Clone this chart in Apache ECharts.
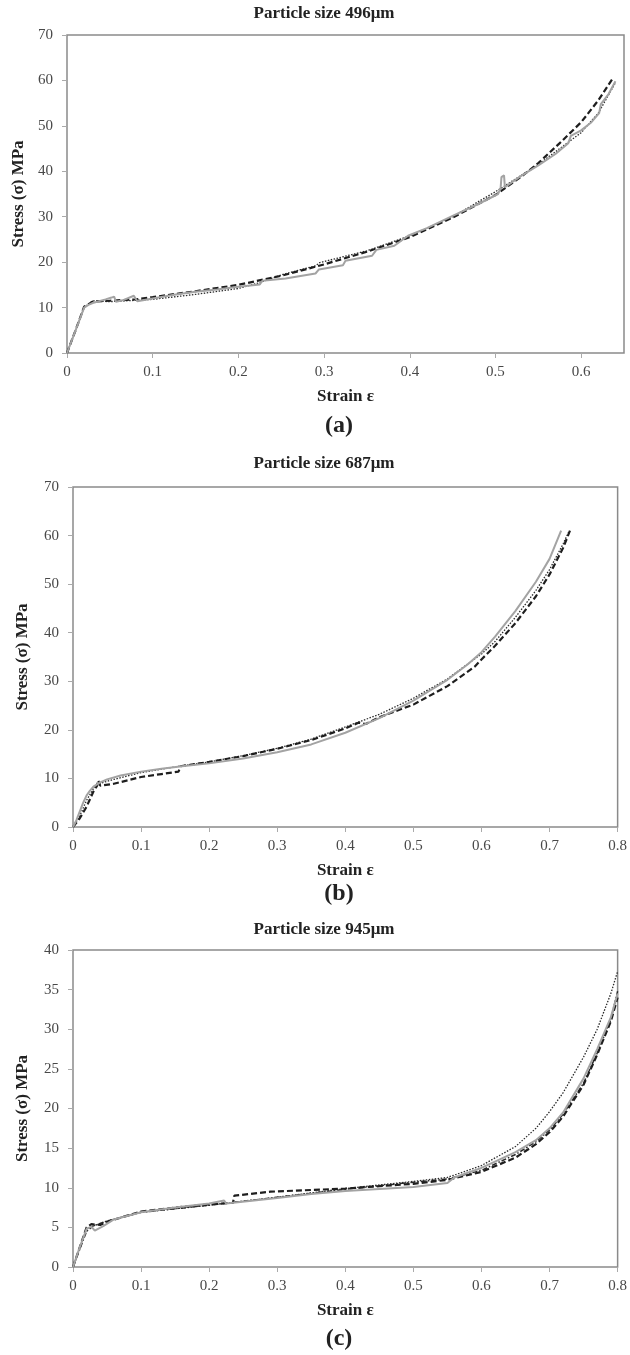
<!DOCTYPE html>
<html>
<head>
<meta charset="utf-8">
<title>Stress–strain curves by particle size</title>
<script src="https://cdn.jsdelivr.net/npm/echarts@6/dist/echarts.min.js"></script>
<style>
  html, body { margin: 0; padding: 0; background: #fff; }
  #chart { width: 630px; height: 1355px; }
</style>
</head>
<body>
<div id="chart"></div>
<script>
// Panel headings and sub-figure letters
const panelTitles = ['Particle size 496μm', 'Particle size 687μm', 'Particle size 945μm'];
const panelLetters = ['(a)', '(b)', '(c)'];

// Axis ranges (strain ε, stress σ in MPa)
const strainMax = [0.65, 0.8, 0.8];
const strainStep = 0.1;
const stressMax = [70, 70, 40];
const stressStep = [10, 10, 5];

// Panel (a): 496 μm, [strain, stress]
const a_solid = [[0,0],[0.01,5],[0.02,10],[0.025,10.6],[0.03,11],[0.045,11.8],[0.052,12.2],[0.055,12.4],[0.057,11.3],[0.065,11.6],[0.078,12.6],[0.08,12.9],[0.082,11.4],[0.1,12],[0.125,12.8],[0.15,13.5],[0.175,14],[0.2,14.6],[0.225,15.1],[0.228,15.9],[0.255,16.4],[0.29,17.5],[0.294,18.4],[0.322,19.3],[0.325,20.3],[0.356,21.4],[0.361,22.7],[0.382,23.6],[0.398,25.8],[0.42,27.5],[0.45,30.2],[0.48,32.8],[0.503,35],[0.506,36.3],[0.507,38.7],[0.51,39.1],[0.511,36.5],[0.53,39],[0.55,41.3],[0.57,43.8],[0.585,46.2],[0.588,47.8],[0.6,49],[0.612,50.8],[0.621,52.8],[0.623,54.8],[0.632,57],[0.64,59.8]];
const a_dashed = [[0,0],[0.01,5],[0.02,10.2],[0.03,11.3],[0.05,11.5],[0.08,11.8],[0.1,12.3],[0.15,13.6],[0.2,15],[0.25,17],[0.3,19.5],[0.35,22.3],[0.4,25.5],[0.45,29.8],[0.5,34.8],[0.53,38.8],[0.55,41.8],[0.575,46.2],[0.6,50.8],[0.62,55.6],[0.637,60.5]];
const a_dotted = [[0,0],[0.02,10],[0.03,11.5],[0.05,11.3],[0.1,11.8],[0.15,12.9],[0.2,14.2],[0.225,15.5],[0.25,17.2],[0.29,19.2],[0.295,19.9],[0.35,22.5],[0.4,25.8],[0.45,30],[0.5,35.5],[0.55,41.5],[0.6,48.5],[0.62,52.8],[0.64,59.5]];

// Panel (b): 687 μm
const b_solid = [[0,0],[0.005,1.4],[0.01,3.2],[0.015,5],[0.02,6.5],[0.025,7.5],[0.03,8.3],[0.04,9.2],[0.05,9.8],[0.07,10.6],[0.1,11.4],[0.13,12],[0.16,12.5],[0.2,13.1],[0.25,14.1],[0.3,15.4],[0.35,17],[0.4,19.4],[0.45,22.4],[0.5,26],[0.55,30.3],[0.58,33.5],[0.6,36],[0.62,39.2],[0.65,44.5],[0.68,50.5],[0.7,55.2],[0.717,61]];
const b_dashed = [[0,0],[0.01,1.8],[0.02,4.2],[0.03,7.3],[0.035,8.4],[0.037,9.6],[0.04,8.5],[0.06,8.9],[0.08,9.6],[0.1,10.3],[0.13,10.9],[0.155,11.4],[0.158,12.5],[0.2,13.4],[0.25,14.6],[0.3,16.1],[0.35,17.9],[0.4,20.3],[0.42,21.5],[0.43,21.2],[0.45,22.6],[0.5,25.2],[0.55,29],[0.59,33],[0.6,34.5],[0.62,37.3],[0.65,42],[0.68,47.5],[0.7,52],[0.72,57.5],[0.73,61]];
const b_dotted = [[0,0],[0.01,2.3],[0.02,5.5],[0.03,7.9],[0.04,9],[0.06,9.8],[0.1,11.2],[0.15,12.4],[0.2,13.4],[0.25,14.7],[0.3,16.2],[0.35,18.1],[0.4,20.6],[0.45,23.2],[0.5,26.5],[0.55,30.5],[0.58,33.6],[0.6,35.6],[0.62,38.2],[0.65,43.2],[0.68,48.7],[0.7,53],[0.72,58.3],[0.728,60.7]];

// Panel (c): 945 μm
const c_solid = [[0,0],[0.01,2.5],[0.02,4.8],[0.027,5.1],[0.032,4.6],[0.045,5.2],[0.06,6],[0.1,6.9],[0.15,7.5],[0.2,8],[0.222,8.4],[0.225,8],[0.3,8.7],[0.35,9.2],[0.4,9.6],[0.5,10.1],[0.55,10.6],[0.56,11.3],[0.6,12.5],[0.65,14.5],[0.68,16],[0.7,17.5],[0.72,19.5],[0.75,23.8],[0.77,27.5],[0.79,31.5],[0.8,34.5]];
const c_dashed = [[0,0],[0.02,5],[0.027,5.4],[0.04,5.3],[0.05,5.7],[0.1,7],[0.15,7.5],[0.2,7.9],[0.235,8.1],[0.237,9],[0.29,9.5],[0.4,9.9],[0.5,10.5],[0.55,11],[0.6,12],[0.65,13.8],[0.68,15.5],[0.7,17],[0.72,19],[0.75,23],[0.77,26.8],[0.79,31],[0.8,34]];
const c_dotted = [[0,0],[0.02,4.8],[0.03,5.2],[0.05,5.8],[0.1,6.9],[0.2,7.8],[0.3,8.8],[0.4,9.9],[0.5,10.8],[0.55,11.3],[0.6,12.8],[0.65,15.2],[0.68,17.5],[0.7,19.6],[0.72,22],[0.75,26.5],[0.77,30],[0.79,34.5],[0.8,37.3]];
const c_dashdot = [[0,0],[0.02,4.5],[0.03,5.2],[0.05,5.8],[0.1,6.9],[0.2,7.8],[0.3,8.8],[0.4,9.8],[0.5,10.7],[0.55,11.1],[0.6,12.2],[0.65,14.2],[0.68,15.8],[0.7,17.3],[0.72,19.3],[0.75,23.2],[0.77,27],[0.79,31.2],[0.8,34.8]];

const panelSeries = [
  [a_solid, a_dashed, a_dotted],
  [b_solid, b_dashed, b_dotted],
  [c_solid, c_dashed, c_dotted, c_dashdot]
];

// Plot rectangles in pixels
const grids = [
  { left: 67, top: 35, width: 557, height: 318 },
  { left: 73, top: 487, width: 548, height: 340 },
  { left: 73, top: 950, width: 545, height: 317 }
];
const headingY = [14, 464, 930];
const letterY = [426, 894, 1339];
const yNameGap = [40, 42, 42];

const SERIF = '"Liberation Serif", "Times New Roman", serif';
const FRAME = '#8a8a8a';
const styles = [
  { color: '#a3a3a3', width: 2, type: 'solid' },
  { color: '#1e1e1e', width: 2.2, type: [6, 3] },
  { color: '#2a2a2a', width: 1.3, type: [1.5, 1.5] },
  { color: '#2a2a2a', width: 1.5, type: [5, 2, 1.5, 2] }
];

const option = {
  backgroundColor: '#fff',
  animation: false,
  grid: grids.map(g => ({ ...g, show: true, borderColor: FRAME, borderWidth: 1.5, containLabel: false })),
  xAxis: grids.map((g, i) => ({
    type: 'value', gridIndex: i, min: 0, max: strainMax[i], interval: strainStep,
    name: 'Strain ε', nameLocation: 'middle', nameGap: 35,
    nameTextStyle: { fontFamily: SERIF, fontWeight: 'bold', fontSize: 17, color: '#222' },
    axisLine: { show: false },
    axisTick: { show: true, inside: false, length: 5, lineStyle: { color: '#aaa' } },
    axisLabel: { fontFamily: SERIF, fontSize: 15, color: '#484848', margin: 12, showMaxLabel: i !== 0 },
    splitLine: { show: false }
  })),
  yAxis: grids.map((g, i) => ({
    type: 'value', gridIndex: i, min: 0, max: stressMax[i], interval: stressStep[i],
    name: 'Stress (σ) MPa', nameLocation: 'middle', nameGap: yNameGap[i], nameRotate: 90,
    nameTextStyle: { fontFamily: SERIF, fontWeight: 'bold', fontSize: 17, color: '#222' },
    axisLine: { show: false },
    axisTick: { show: true, inside: false, length: 5, lineStyle: { color: '#aaa' } },
    axisLabel: { fontFamily: SERIF, fontSize: 15, color: '#484848', margin: 14 },
    splitLine: { show: false }
  })),
  series: panelSeries.flatMap((list, i) => list.map((data, k) => ({
    type: 'line', xAxisIndex: i, yAxisIndex: i, data,
    showSymbol: false, symbol: 'none', silent: true,
    lineStyle: { color: styles[k].color, width: styles[k].width, type: styles[k].type },
    z: 10 - k
  }))),
  graphic: [
    ...panelTitles.map((t, i) => ({
      type: 'text', x: 324, y: headingY[i],
      style: { text: t, font: 'bold 17px ' + SERIF, fill: '#222', textAlign: 'center', textVerticalAlign: 'middle' }
    })),
    ...panelLetters.map((t, i) => ({
      type: 'text', x: 339, y: letterY[i],
      style: { text: t, font: 'bold 24px ' + SERIF, fill: '#222', textAlign: 'center', textVerticalAlign: 'middle' }
    }))
  ]
};

const chart = echarts.init(document.getElementById('chart'), null, { renderer: 'canvas' });
chart.setOption(option);
</script>
</body>
</html>
